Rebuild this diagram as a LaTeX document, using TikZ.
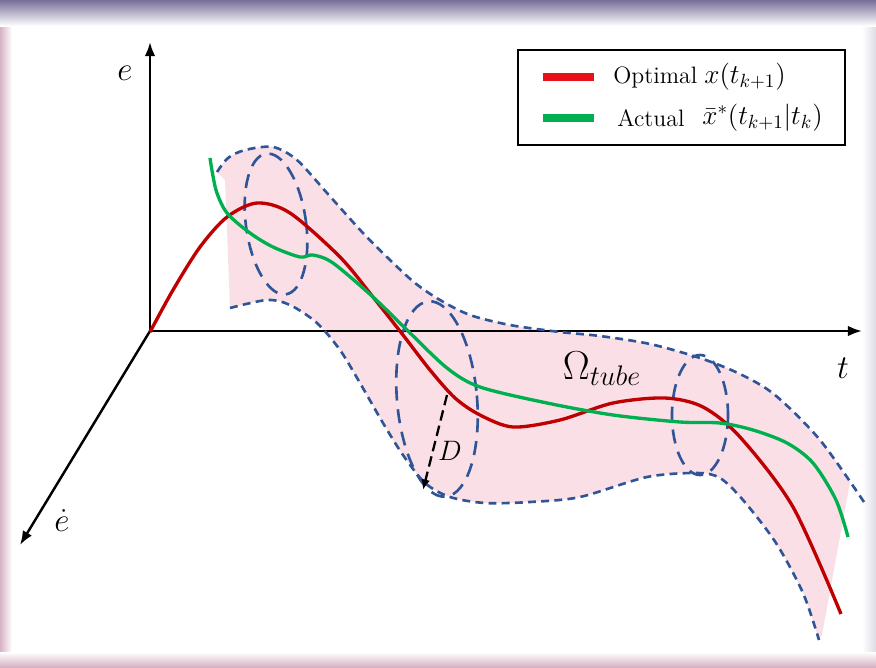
\RequirePackage{fix-cm}
\documentclass[tikz,border=0pt]{standalone}
\usepackage{amsmath,amssymb}
\usepackage{tikz}
\usetikzlibrary{arrows.meta}
\definecolor{tubepink}{RGB}{250,223,231}
\definecolor{tubeblue}{RGB}{47,85,151}
\definecolor{optred}{RGB}{192,0,0}
\definecolor{legred}{RGB}{232,16,24}
\definecolor{actgreen}{RGB}{0,176,80}
\definecolor{frametop}{RGB}{120,112,152}
\definecolor{frameside}{RGB}{214,178,196}

\tikzset{
    axis/.style={line width=1.4pt, -{Latex[length=8pt,width=6pt]}},
    tubeline/.style={tubeblue, line width=1.5pt, dash pattern=on 4.5pt off 3pt},
    crosscut/.style={tubeblue, line width=1.5pt, dash pattern=on 8pt off 5pt},
    optimal/.style={optred, line width=1.9pt},
    actual/.style={actgreen, line width=1.9pt},
    axlabel/.style={font=\fontsize{19}{22}\selectfont},
    legtext/.style={font=\fontsize{13.5}{16}\selectfont, anchor=west, inner sep=0pt},
    legmath/.style={font=\fontsize{15.5}{18}\selectfont, anchor=west, inner sep=0pt}
}

\begin{document}
\begin{tikzpicture}[x=0.02cm, y=-0.02cm]
    \useasboundingbox (0,0) rectangle (876,667);

    % frame
    \fill[left color=frameside, right color=white] (0,0) rectangle (12,667);
    \fill[right color=frametop!25, left color=white] (862,0) rectangle (876,667);
    \fill[bottom color=frameside, top color=white] (0,652) rectangle (876,667);
    \fill[top color=frametop, bottom color=white] (0,0) rectangle (876,26);

    \coordinate (O) at (150,331);
    \coordinate (E) at (150,42);
    \coordinate (T) at (862,331);
    \coordinate (Ed) at (20,545);

    % tube
    \fill[tubepink]
        plot[smooth] coordinates {(217,172) (228,158) (245,150) (273,147) (297,160)
            (327,193) (363,233) (390,260) (415,283) (440,300) (470,315) (510,325)
            (560,332) (600,336) (650,344) (700,358) (740,374) (775,395) (820,440)
            (850,482)}
        -- (822,635)
        -- plot[smooth] coordinates {(819,640) (803,593) (776,543) (743,500) (720,478)
            (697,473) (647,477) (580,497) (530,502) (485,503) (450,497) (425,483)
            (403,455) (383,423) (360,383) (340,350) (317,323) (290,305) (267,300)
            (230,308)}
        -- (225,180) -- cycle;

    \draw[axis] (O) -- (E);
    \draw[axis] (O) -- (T);
    \draw[axis] (O) -- (Ed);

    \draw[tubeline] plot[smooth] coordinates {(217,172) (228,158) (245,150) (273,147)
        (297,160) (327,193) (363,233) (390,260) (415,283) (440,300) (470,315)
        (510,325) (560,332) (600,336) (650,344) (700,358) (740,374) (775,395)
        (820,440) (864,502)};
    \draw[tubeline] plot[smooth] coordinates {(230,308) (267,300) (290,305) (317,323)
        (340,350) (360,383) (383,423) (403,455) (425,483) (450,497) (485,503)
        (530,502) (580,497) (647,477) (697,473) (720,478) (743,500) (776,543)
        (803,593) (819,640)};

    \draw[crosscut] (276,224) ellipse [x radius=30, y radius=71, rotate=8];
    \draw[crosscut] (437,399) ellipse [x radius=40, y radius=98, rotate=5];
    \draw[crosscut] (700,415) ellipse [x radius=28, y radius=60];

    \draw[optimal] plot[smooth] coordinates {(150,332) (173,290) (200,247) (227,217)
        (257,203) (290,213) (340,257) (373,297) (403,335) (430,370) (455,398)
        (480,415) (513,427) (560,420) (613,403) (665,398) (703,407) (740,437)
        (793,507) (841,614)};
    \draw[actual] plot[smooth] coordinates {(210,158) (216,190) (227,213) (250,233)
        (273,247) (300,257) (313,255) (333,263) (373,297) (407,330) (447,368)
        (480,387) (547,403) (613,415) (680,422) (720,423) (753,430) (787,443)
        (813,463) (836,500) (848,537)};

    % radius D
    \coordinate (Dtop) at (447,395);
    \coordinate (Dbot) at (423,490);
    \draw[line width=1.3pt, dash pattern=on 6pt off 3pt, -{Latex[length=6pt,width=5pt]}]
        (Dtop) -- (Dbot);
    \node[font=\fontsize{16}{18}\selectfont] (dlabel) at (450,451) {$D$};

    \node[axlabel] (elabel) at (125,73) {$e$};
    \node[axlabel] (tlabel) at (843,368) {$t$};
    \node[axlabel] (edlabel) at (62,521) {$\dot{e}$};
    \node[font=\fontsize{23}{26}\selectfont] (omega) at (602,369) {$\Omega_{tube}$};

    % legend
    \draw[line width=1.1pt] (518,50) rectangle (845,145);
    \coordinate (La) at (543,77);
    \coordinate (Lb) at (594,77);
    \coordinate (Lc) at (543,118);
    \coordinate (Ld) at (594,118);
    \draw[legred, line width=4pt] (La) -- (Lb);
    \draw[actgreen, line width=4pt] (Lc) -- (Ld);
    \node[legtext] (opt) at (613,77) {Optimal};
    \node[legmath] (optx) at (704,77) {$x(t_{k+1})$};
    \node[legtext] (act) at (617,118) {Actual};
    \node[legmath] (actx) at (702,118) {$\bar{x}^{*}(t_{k+1}|t_k)$};
\end{tikzpicture}
\end{document}
